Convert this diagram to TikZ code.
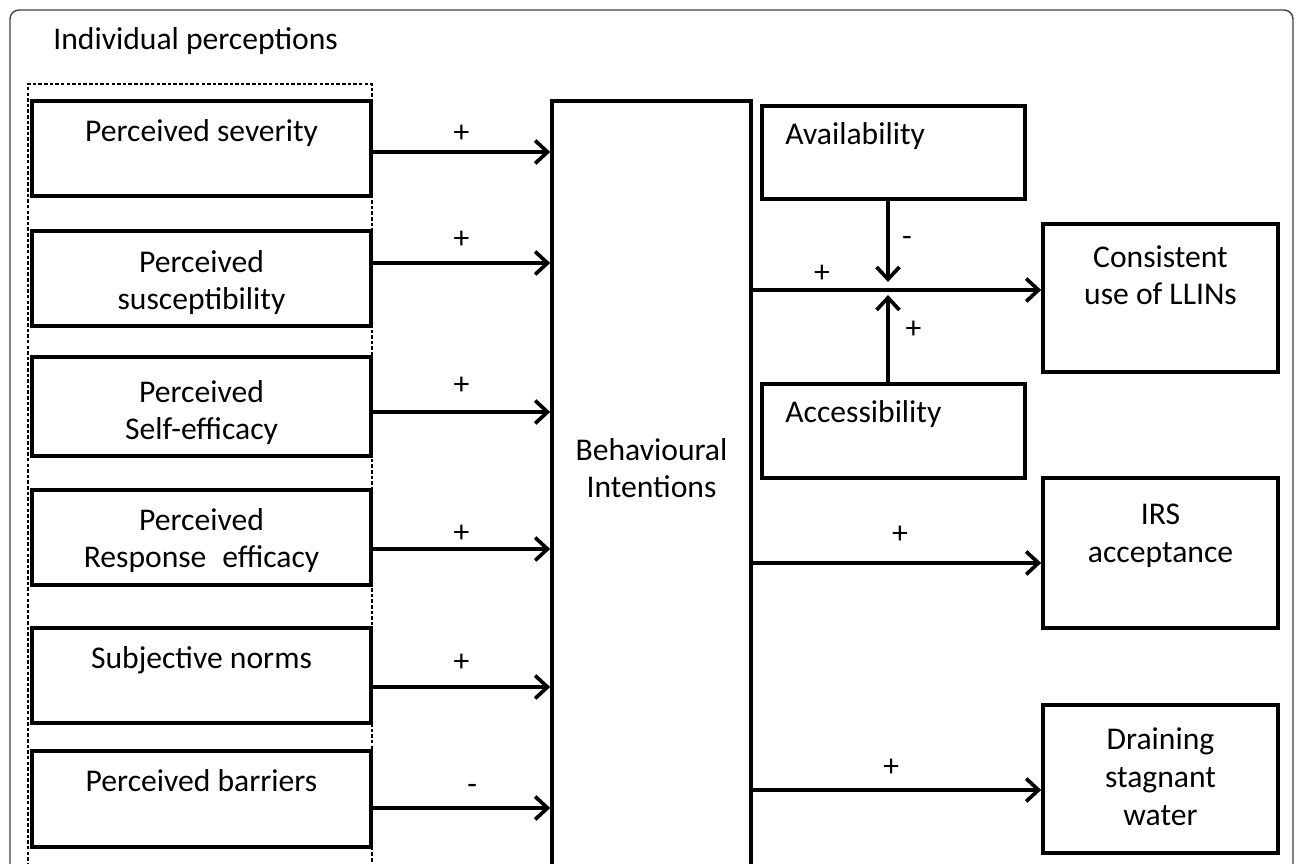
\documentclass[tikz,border=0pt]{standalone}
\usepackage{fontspec}
\setmainfont{Carlito}
\usetikzlibrary{arrows.meta}
\tikzset{>={Straight Barb[length=7pt,width=13pt]}}
\tikzset{
  box/.style={draw,line width=2.1pt,inner sep=0pt},
  lbl/.style={font=\fontsize{18}{21.6}\selectfont,align=center,inner sep=0pt,anchor=base},
  sign/.style={font=\fontsize{18}{21.6}\selectfont,inner sep=0pt},
  arr/.style={->,line width=2.1pt},
}

\begin{document}
\begin{tikzpicture}[x=0.02cm,y=-0.02cm]
  \useasboundingbox (0,0) rectangle (1295,864);
  % frame and group
  \draw[black!75,line width=0.8pt,rounded corners=0.18cm] (10,900) -- (10,10) -- (1293,10) -- (1293,900);
  \node[lbl,anchor=base west] (title) at (53,49.5) {Individual perceptions};
  \draw[line width=0.8pt,dash pattern=on 2pt off 1.2pt] (28,900) |- (372,84) -- (372,900);

  % perceptions (text anchored on its last line)
  \node[box,minimum width=6.78cm,minimum height=1.90cm] (sev)  at (201.5,148.5) {};
  \node[box,minimum width=6.78cm,minimum height=1.90cm] (sus)  at (201.5,278.5) {};
  \node[box,minimum width=6.78cm,minimum height=1.98cm] (self) at (201.5,406.5) {};
  \node[box,minimum width=6.78cm,minimum height=1.90cm] (resp) at (201.5,537.5) {};
  \node[box,minimum width=6.78cm,minimum height=1.90cm] (subj) at (201.5,675.5) {};
  \node[box,minimum width=6.78cm,minimum height=1.92cm] (barr) at (201.5,799) {};
  \node[lbl] (t-sev)  at (201.5,142) {Perceived severity};
  \node[lbl] (t-sus)  at (201.5,310) {Perceived\\susceptibility};
  \node[lbl] (t-self) at (201.5,440) {Perceived\\Self-efficacy};
  \node[lbl] (t-resp) at (201.5,568) {Perceived\\Response\enspace efficacy};
  \node[lbl] (t-subj) at (201.5,668) {Subjective norms};
  \node[lbl] (t-barr) at (201.5,791) {Perceived barriers};

  % intentions and outcomes
  \node[box,minimum width=3.98cm,minimum height=16cm] (bi) at (651.5,501) {};
  \node[lbl] (t-bi) at (651.5,498) {Behavioural\\Intentions};
  \node[box,minimum width=5.26cm,minimum height=1.86cm] (avail) at (893.5,152.5) {};
  \node[box,minimum width=5.26cm,minimum height=1.88cm] (acc)   at (893.5,431) {};
  \node[lbl,anchor=base west] (t-avail) at (785,145) {Availability};
  \node[lbl,anchor=base west] (t-acc)   at (785,423) {Accessibility};
  \node[box,minimum width=4.7cm,minimum height=2.96cm] (cons)  at (1160.5,298) {};
  \node[box,minimum width=4.7cm,minimum height=3.00cm] (irs)   at (1160.5,553) {};
  \node[box,minimum width=4.7cm,minimum height=2.96cm] (drain) at (1160.5,779) {};
  \node[lbl] (t-cons)  at (1160.5,305) {Consistent\\use of LLINs};
  \node[lbl] (t-irs)   at (1160.5,562) {IRS\\acceptance};
  \node[lbl] (t-drain) at (1160.5,825) {Draining\\stagnant\\water};

  % arrows
  \draw[arr] (sev.east |- 0,152)  -- (bi.west |- 0,152)  node[sign,midway,above=4.5pt] {+};
  \draw[arr] (sus.east |- 0,263)  -- (bi.west |- 0,263)  node[sign,midway,above=7.4pt] {+};
  \draw[arr] (self.east |- 0,412) -- (bi.west |- 0,412)  node[sign,midway,above=9pt] {+};
  \draw[arr] (resp.east |- 0,549) -- (bi.west |- 0,549)  node[sign,midway,above=2.8pt] {+};
  \draw[arr] (subj.east |- 0,687) -- (bi.west |- 0,687)  node[sign,midway,above=8pt] {+};
  \draw[arr] (barr.east |- 0,808) -- (bi.west |- 0,808)  node[sign,pos=.56,above=6.8pt] {-};

  \coordinate (jn) at (888,290);
  \draw[arr] (bi.east |- jn) -- (cons.west |- jn) node[sign,pos=.24,above=3.4pt] {+};
  \draw[arr] (avail.south -| jn) -- ([yshift=0.16cm]jn) node[sign,pos=.5,right=7pt] {-};
  \draw[arr] (acc.north -| jn) -- ([yshift=-0.1cm]jn) node[sign,pos=.6,right=9pt] {+};
  \draw[arr] (bi.east |- 0,563) -- (irs.west |- 0,563)   node[sign,pos=.51,above=10.2pt] {+};
  \draw[arr] (bi.east |- 0,790) -- (drain.west |- 0,790) node[sign,pos=.48,above=6.8pt] {+};
\end{tikzpicture}
\end{document}
